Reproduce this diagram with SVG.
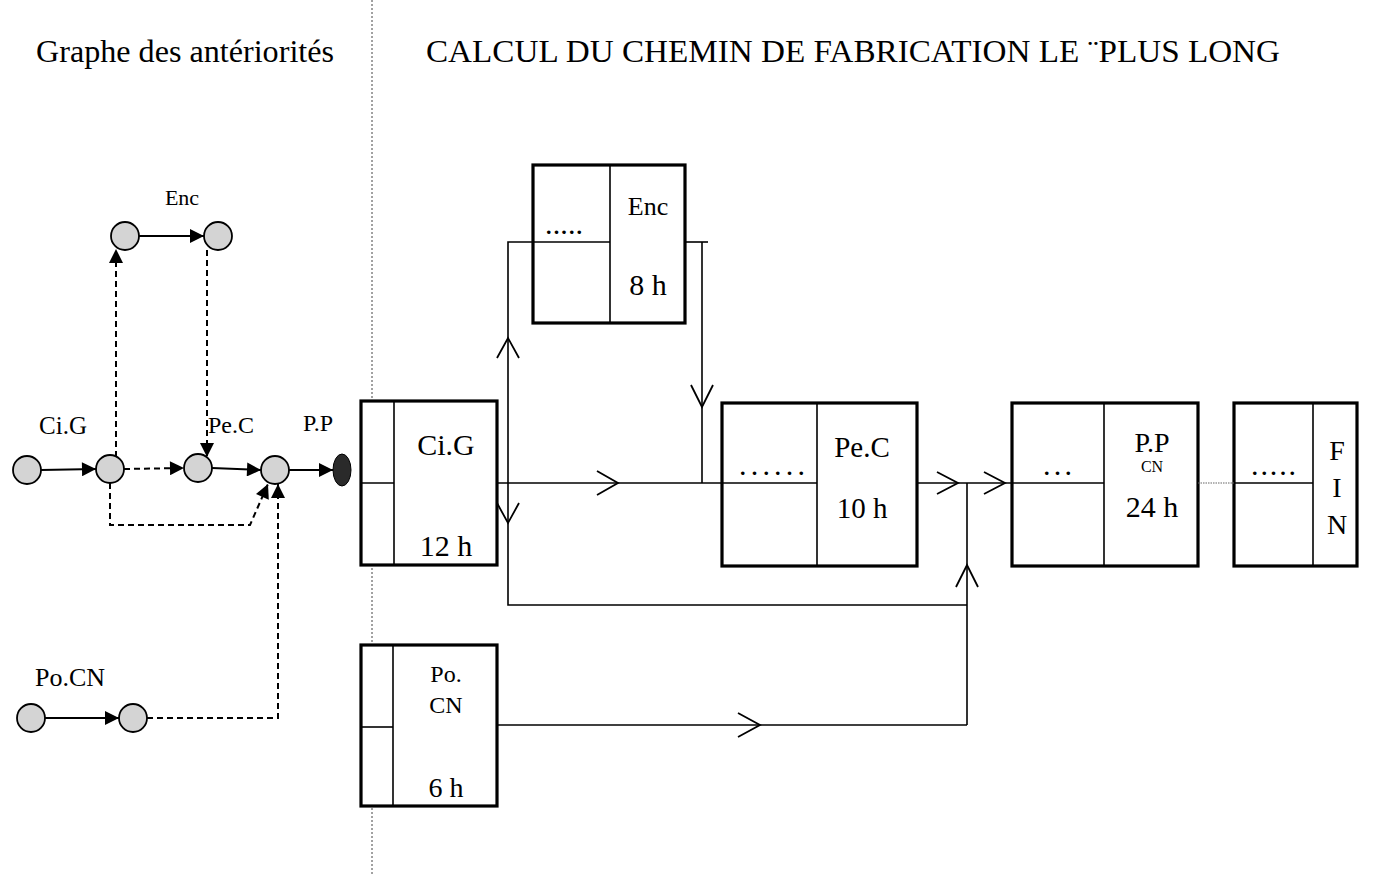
<svg xmlns="http://www.w3.org/2000/svg" width="1373" height="876" viewBox="0 0 1373 876">
<style>
text{font-family:"Liberation Serif","Times New Roman",serif;fill:#000}
.c{text-anchor:middle}
.circ{fill:#d4d4d4;stroke:#000;stroke-width:1.8}
.box{fill:#fff;stroke:#000;stroke-width:3.2}
.in{stroke:#000;stroke-width:1.6;fill:none}
.sol{stroke:#000;stroke-width:2;fill:none}
.dsh{stroke:#000;stroke-width:2;fill:none;stroke-dasharray:6,4}
.ln{stroke:#000;stroke-width:1.6;fill:none}
.chev{stroke:#000;stroke-width:1.8;fill:none}
.dots{font-weight:bold}
</style>
<defs>
<marker id="tri" viewBox="0 0 10 10" refX="10" refY="5" markerWidth="17" markerHeight="14" markerUnits="userSpaceOnUse" orient="auto"><path d="M0,0 L10,5 L0,10 z" fill="#000"/></marker>
</defs>
<rect width="1373" height="876" fill="#fff"/>

<!-- headers -->
<text x="36" y="62" font-size="32" textLength="298" lengthAdjust="spacingAndGlyphs">Graphe des antériorités</text>
<text x="426" y="62" font-size="32" textLength="854" lengthAdjust="spacingAndGlyphs">CALCUL DU CHEMIN DE FABRICATION LE ¨PLUS LONG</text>
<line x1="372" y1="0" x2="372" y2="876" stroke="#444" stroke-width="1" stroke-dasharray="2,2"/>

<!-- left graph nodes -->
<g id="lg-a"><circle class="circ" cx="27" cy="470" r="14"/></g>
<g id="lg-cig"><circle class="circ" cx="110" cy="469" r="14"/><text class="c" x="63" y="434" font-size="25">Ci.G</text></g>
<g id="lg-pec"><circle class="circ" cx="198" cy="468" r="14"/><text class="c" x="231" y="433" font-size="24">Pe.C</text></g>
<g id="lg-pp"><circle class="circ" cx="275" cy="470" r="14"/><text class="c" x="318" y="431" font-size="24">P.P</text></g>
<g id="lg-end"><ellipse cx="342" cy="470" rx="9" ry="16" fill="#2a2a2a" stroke="#000" stroke-width="1"/></g>
<g id="lg-enc1"><circle class="circ" cx="125" cy="236" r="14"/></g>
<g id="lg-enc2"><circle class="circ" cx="218" cy="236" r="14"/><text class="c" x="182" y="205" font-size="22">Enc</text></g>
<g id="lg-po1"><circle class="circ" cx="31" cy="718" r="14"/><text class="c" x="70" y="686" font-size="26">Po.CN</text></g>
<g id="lg-po2"><circle class="circ" cx="133" cy="718" r="14"/></g>

<!-- left graph connectors -->
<g id="left-connectors">
<line class="sol" x1="41" y1="470" x2="96" y2="469" marker-end="url(#tri)"/>
<line class="dsh" x1="124" y1="469" x2="184" y2="468" marker-end="url(#tri)"/>
<line class="sol" x1="212" y1="468" x2="261" y2="470" marker-end="url(#tri)"/>
<line class="sol" x1="289" y1="470" x2="333" y2="470" marker-end="url(#tri)"/>
<line class="sol" x1="139" y1="236" x2="204" y2="236" marker-end="url(#tri)"/>
<line class="dsh" x1="116" y1="457" x2="116" y2="249" marker-end="url(#tri)"/>
<line class="dsh" x1="207" y1="250" x2="207" y2="457" marker-end="url(#tri)"/>
<polyline class="dsh" points="110,483 110,525 250,525 268,484" marker-end="url(#tri)"/>
<line class="sol" x1="45" y1="718" x2="119" y2="718" marker-end="url(#tri)"/>
<polyline class="dsh" points="147,718 278,718 278,484" marker-end="url(#tri)"/>
</g>

<!-- right boxes -->
<g id="n-cig">
<rect class="box" x="361" y="401" width="136" height="164"/>
<line class="in" x1="394" y1="401" x2="394" y2="565"/>
<line class="in" x1="361" y1="483" x2="394" y2="483"/>
<text class="c" x="446" y="455" font-size="30">Ci.G</text>
<text class="c" x="446" y="556" font-size="30">12 h</text>
</g>
<g id="n-enc">
<rect class="box" x="533" y="165" width="152" height="158"/>
<line class="in" x1="610" y1="165" x2="610" y2="323"/>
<line class="in" x1="533" y1="242" x2="610" y2="242"/>
<text class="dots" x="546" y="234" font-size="22" textLength="36" lengthAdjust="spacing">.....</text>
<text class="c" x="648" y="215" font-size="26">Enc</text>
<text class="c" x="648" y="295" font-size="30">8 h</text>
</g>
<g id="n-pec">
<rect class="box" x="722" y="403" width="195" height="163"/>
<line class="in" x1="817" y1="403" x2="817" y2="566"/>
<line class="in" x1="722" y1="483" x2="817" y2="483"/>
<text class="dots" x="740" y="475" font-size="22" textLength="64" lengthAdjust="spacing">......</text>
<text class="c" x="862" y="457" font-size="29">Pe.C</text>
<text class="c" x="862" y="518" font-size="29">10 h</text>
</g>
<g id="n-pp">
<rect class="box" x="1012" y="403" width="186" height="163"/>
<line class="in" x1="1104" y1="403" x2="1104" y2="566"/>
<line class="in" x1="1012" y1="483" x2="1104" y2="483"/>
<text class="dots" x="1044" y="475" font-size="22" textLength="27" lengthAdjust="spacing">...</text>
<text class="c" x="1152" y="452" font-size="28">P.P</text>
<text class="c" x="1152" y="472" font-size="16">CN</text>
<text class="c" x="1152" y="517" font-size="30">24 h</text>
</g>
<g id="n-fin">
<rect class="box" x="1234" y="403" width="123" height="163"/>
<line class="in" x1="1313" y1="403" x2="1313" y2="566"/>
<line class="in" x1="1234" y1="483" x2="1313" y2="483"/>
<text class="dots" x="1252" y="475" font-size="22" textLength="43" lengthAdjust="spacing">.....</text>
<text class="c" x="1337" y="460" font-size="28">F</text>
<text class="c" x="1337" y="497" font-size="28">I</text>
<text class="c" x="1337" y="534" font-size="28">N</text>
</g>
<g id="n-pocn">
<rect class="box" x="361" y="645" width="136" height="161"/>
<line class="in" x1="393" y1="645" x2="393" y2="806"/>
<line class="in" x1="361" y1="727" x2="393" y2="727"/>
<text class="c" x="446" y="682" font-size="24">Po.</text>
<text class="c" x="446" y="713" font-size="24">CN</text>
<text class="c" x="446" y="797" font-size="28">6 h</text>
</g>

<!-- right connectors -->
<g id="right-connectors">
<line class="ln" x1="497" y1="483" x2="722" y2="483"/>
<polyline class="chev" points="597,471 618,483 597,495"/>
<polyline class="ln" points="533,242 508,242 508,605 967,605"/>
<polyline class="chev" points="497,358 508,338 519,358"/>
<polyline class="chev" points="497,503 508,523 519,503"/>
<polyline class="ln" points="685,242 708,242"/>
<line class="ln" x1="702" y1="242" x2="702" y2="483"/>
<polyline class="chev" points="691,385 702,407 713,385"/>
<line class="ln" x1="917" y1="483" x2="1012" y2="483"/>
<polyline class="chev" points="937,472 958,483 937,494"/>
<polyline class="chev" points="984,472 1005,483 984,494"/>
<line class="ln" x1="967" y1="483" x2="967" y2="725"/>
<polyline class="chev" points="956,587 967,565 978,587"/>
<line class="ln" x1="497" y1="725" x2="967" y2="725"/>
<polyline class="chev" points="738,713 760,725 738,737"/>
<line x1="1198" y1="483" x2="1234" y2="483" stroke="#666" stroke-width="1.2" stroke-dasharray="1.5,1"/>
</g>
</svg>
